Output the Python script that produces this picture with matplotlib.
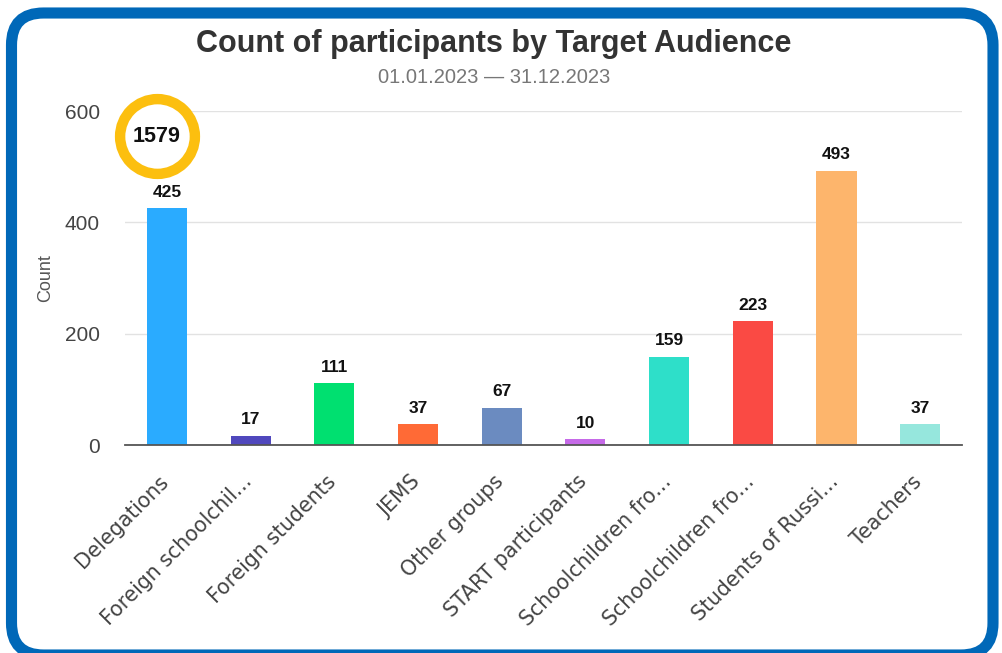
import matplotlib.pyplot as plt
from matplotlib.patches import FancyBboxPatch

categories = ['Delegations', 'Foreign schoolchil...', 'Foreign students', 'JEMS',
              'Other groups', 'START participants', 'Schoolchildren fro...',
              'Schoolchildren fro...', 'Students of Russi...', 'Teachers']
counts = [425, 17, 111, 37, 67, 10, 159, 223, 493, 37]
colors = ['#2aabff', '#5048bd', '#00e070', '#ff6a36', '#6b8bc0',
          '#c66ae8', '#2edfc9', '#fa4a44', '#fdb56c', '#96e7dd']
yticks = [0, 200, 400, 600]
total = sum(counts)

fig = plt.figure(figsize=(10.02, 6.53), dpi=100)

# blue rounded frame in pixel coordinates
bg = fig.add_axes([0, 0, 1, 1])
bg.set_xlim(0, 1002)
bg.set_ylim(653, 0)
bg.axis('off')
frame = FancyBboxPatch((11.5, 13), 981.5, 642,
                       boxstyle='round,pad=0,rounding_size=32',
                       facecolor='white', edgecolor='#0068b8', linewidth=8)
bg.add_patch(frame)

ax = fig.add_axes([0.1248, 0.3185, 0.8353, 0.5115])
ax.set_facecolor('none')
x = range(len(categories))
ax.bar(x, counts, width=0.48, color=colors, zorder=3)
for i, v in enumerate(counts):
    ax.annotate(str(v), (i, v), xytext=(0, 6), textcoords='offset points',
                ha='center', va='bottom', fontsize=12.5, fontweight='bold',
                family='Liberation Sans', color='#111111')

ax.set_xlim(-0.5, len(categories) - 0.5)
ax.set_ylim(0, 600)
ax.set_yticks(yticks)
ax.set_yticklabels([str(t) for t in yticks], family='Liberation Sans',
                   fontsize=15, color='#444444')
ax.set_xticks(list(x))
ax.set_xticklabels([])
# category labels, rotated
for i, name in enumerate(categories):
    ax.annotate(name, (i, 0), xytext=(-1, -24), textcoords='offset points',
                rotation=45, ha='right', va='center', rotation_mode='anchor',
                fontsize=14.8, color='#444444', family='DejaVu Sans',
                annotation_clip=False)
ax.tick_params(axis='y', length=0, pad=18)
ax.tick_params(axis='x', length=0)
ax.grid(axis='y', color='#e2e2e2', linewidth=1, zorder=0)
for s in ['top', 'right', 'left']:
    ax.spines[s].set_visible(False)
ax.spines['bottom'].set_color('#555555')
ax.spines['bottom'].set_linewidth(1.3)
ax.spines['bottom'].set_zorder(4)
ax.set_ylabel('Count', family='Liberation Sans', fontsize=13, color='#555555',
              labelpad=8)

# total badge
ax.scatter([-0.12], [555], s=2900, facecolor='white', edgecolor='#fcbf0f',
           linewidth=7.5, zorder=5, clip_on=False)
ax.text(-0.12, 555, str(total), ha='center', va='center', fontsize=15.5,
        fontweight='bold', family='Liberation Sans', color='#111111', zorder=6)

fig.text(0.493, 0.933, 'Count of participants by Target Audience', ha='center',
         va='center', fontsize=22, fontweight='bold', family='Liberation Sans',
         color='#333333')
fig.text(0.493, 0.881, '01.01.2023 \u2014 31.12.2023', ha='center', va='center',
         fontsize=14.5, family='Liberation Sans', color='#777777')

fig.savefig('out.png', dpi=100)
